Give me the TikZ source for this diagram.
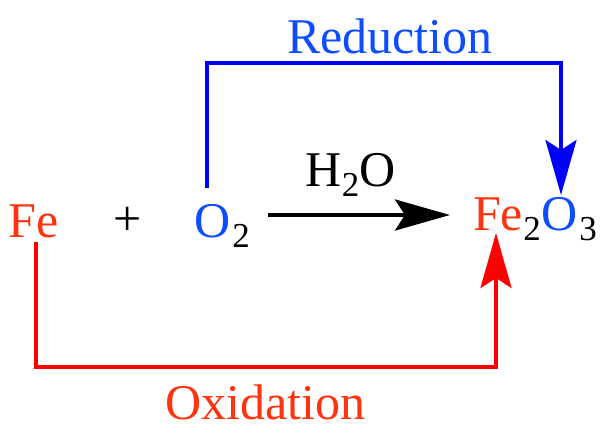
\documentclass[tikz,border=0pt]{standalone}
\usepackage{fontspec}
\setmainfont{Liberation Serif}
\usetikzlibrary{arrows.meta}
\definecolor{redtext}{rgb}{1,0.2,0.05}
\definecolor{bluetext}{rgb}{0.05,0.3,1}
\tikzset{
  lbl/.style={inner sep=0pt,anchor=base,font=\fontsize{50}{50}\selectfont},
  sublbl/.style={inner sep=0pt,anchor=base,font=\fontsize{35}{35}\selectfont},
  tip/.style={-{Stealth[length=55pt,width=31pt,inset=10pt]},line width=4pt}
}
\begin{document}
\begin{tikzpicture}[x=1pt,y=-1pt]
\useasboundingbox (0,0) rectangle (606,440);

\node[lbl,text=redtext] (fe) at (34,237) {Fe};
\node[lbl] (plus) at (128,235) {+};
\node[lbl,text=bluetext] (o) at (213,237) {O};
\node[sublbl] (otwo) at (241,247) {2};
\node[lbl] (water) at (350.5,186) {H\raisebox{-10pt}{\fontsize{35}{35}\selectfont 2}O};
\node[lbl,text=redtext] (fetwo) at (498,230) {Fe};
\node[sublbl] (two) at (532,240) {2};
\node[lbl,text=bluetext] (ox) at (560,230) {O};
\node[sublbl] (three) at (588,240) {3};
\node[lbl,text=bluetext] (red) at (390,53) {Reduction};
\node[lbl,text=redtext] (oxi) at (265,419) {Oxidation};

\coordinate (a) at (268,215);
\coordinate (b) at (450,215);
\coordinate (c) at (207,188);
\coordinate (d) at (561,195);
\coordinate (e) at (36,242);
\coordinate (f) at (496,233);

\draw[tip] (a) -- (b);
\draw[tip,color=blue] (c) |- (561,63) -- (d);
\draw[tip,color=red] (e) |- (496,367) -- (f);
\end{tikzpicture}
\end{document}
